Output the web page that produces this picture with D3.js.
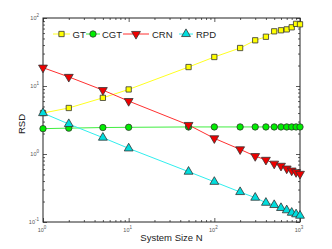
<!DOCTYPE html>
<html>
<head>
<meta charset="utf-8">
<script src="https://cdn.jsdelivr.net/npm/d3@7"></script>
<style>
  body { margin: 0; background: #fff; }
  text { font-family: "Liberation Sans", Arial, sans-serif; }
</style>
</head>
<body>
<div id="chart"></div>
<script>
// Data
var sizes = [1, 2, 5, 10, 50, 100, 200, 300, 400, 500, 600, 700, 800, 900, 1000];
var gt  = [4.0, 4.75, 6.7, 8.9, 19.0, 26.7, 36.2, 47, 53, 63.7, 66, 68, 73, 82, 80.7];
var cgt = [2.36, 2.4, 2.45, 2.47, 2.5, 2.5, 2.5, 2.5, 2.5, 2.5, 2.5, 2.5, 2.5, 2.5, 2.5];
var crn = [18.6, 13.6, 8.7, 6.0, 2.67, 1.70, 1.17, 0.93, 0.82, 0.72, 0.67, 0.61, 0.57, 0.54, 0.51];
var rpd = [4.0, 2.76, 1.74, 1.21, 0.55, 0.39, 0.276, 0.228, 0.192, 0.178, 0.161, 0.149, 0.137, 0.13, 0.124];
var seriesNames = ["GT", "CGT", "CRN", "RPD"];
var xTickExps = [0, 1, 2, 3];
var yTickExps = [-1, 0, 1, 2];

var svgWidth = 332;
var svgHeight = 249;
var margin = { top: 18, right: 32, bottom: 27, left: 43 };
var chartWidth = svgWidth - margin.left - margin.right;
var chartHeight = svgHeight - margin.top - margin.bottom;

var svg = d3.select("#chart")
  .append("svg")
  .attr("width", svgWidth)
  .attr("height", svgHeight);

var chartGroup = svg.append("g")
  .attr("transform", `translate(${margin.left},${margin.top})`);

var xScale = d3.scaleLog().domain([1, 1000]).range([0, chartWidth]);
var yScale = d3.scaleLog().domain([0.1, 100]).range([chartHeight, 0]);

// Minor + major ticks inside the box on all four sides
var xMinor = [], yMinor = [];
for (var e = 0; e < 3; e++) for (var m = 2; m < 10; m++) xMinor.push(m * Math.pow(10, e));
for (var e = -1; e < 2; e++) for (var m = 2; m < 10; m++) yMinor.push(m * Math.pow(10, e));
var xMajor = xTickExps.map(e => Math.pow(10, e));
var yMajor = yTickExps.map(e => Math.pow(10, e));

function tickAxis(axisFn, scale, vals, len) {
  return axisFn(scale).tickValues(vals).tickSize(len).tickFormat("");
}
var axes = [
  [d3.axisTop, xScale, `translate(0,${chartHeight})`],
  [d3.axisBottom, xScale, "translate(0,0)"],
  [d3.axisRight, yScale, "translate(0,0)"],
  [d3.axisLeft, yScale, `translate(${chartWidth},0)`]
];
axes.forEach(function(a) {
  var isX = a[1] === xScale;
  [[isX ? xMinor : yMinor, 2], [isX ? xMajor : yMajor, 4]].forEach(function(t) {
    chartGroup.append("g")
      .attr("transform", a[2])
      .call(tickAxis(a[0], a[1], t[0], t[1]))
      .call(g => g.select(".domain").remove())
      .selectAll("line").attr("stroke", "#333").attr("stroke-width", 0.8);
  });
});

// Frame
chartGroup.append("rect")
  .attr("width", chartWidth)
  .attr("height", chartHeight)
  .attr("fill", "none")
  .attr("stroke", "#222")
  .attr("stroke-width", 1);

// Tick labels 10^n
function powLabel(sel, exp) {
  sel.append("tspan").text("10");
  sel.append("tspan").attr("dy", -3).attr("font-size", 4.5).text(exp);
}
xTickExps.forEach(function(e) {
  chartGroup.append("text")
    .attr("x", xScale(Math.pow(10, e)) - 1)
    .attr("y", chartHeight + 10)
    .attr("text-anchor", "middle")
    .attr("font-size", 5.5)
    .attr("fill", "#555")
    .call(powLabel, e);
});
yTickExps.forEach(function(e) {
  chartGroup.append("text")
    .attr("x", -4)
    .attr("y", yScale(Math.pow(10, e)) + 2)
    .attr("text-anchor", "end")
    .attr("font-size", 5.5)
    .attr("fill", "#555")
    .call(powLabel, e);
});

// Axis titles
svg.append("text")
  .attr("x", margin.left + chartWidth / 2)
  .attr("y", 241)
  .attr("text-anchor", "middle")
  .attr("font-size", 9.5)
  .attr("fill", "#222")
  .text("System Size N");
svg.append("text")
  .attr("transform", "translate(25,124) rotate(-90)")
  .attr("text-anchor", "middle")
  .attr("font-size", 9.5)
  .attr("fill", "#222")
  .text("RSD");

// Series
var seriesData = [gt, cgt, crn, rpd];
var lineColors = ["#ffff20", "#40ee40", "#ff3030", "#30eeee"];
var fillColors = ["#ffff00", "#00ee00", "#ee0000", "#00dddd"];
var symbols = [
  d3.symbol().type(d3.symbolSquare).size(28),
  d3.symbol().type(d3.symbolCircle).size(32),
  d3.symbol().type(d3.symbolTriangle).size(34),
  d3.symbol().type(d3.symbolTriangle).size(34)
];
var rotations = [0, 0, 180, 0];

var line = d3.line()
  .x(d => xScale(d[0]))
  .y(d => yScale(d[1]));

seriesData.forEach(function(vals, i) {
  var pts = sizes.map((s, j) => [s, vals[j]]);
  chartGroup.append("path")
    .datum(pts)
    .attr("fill", "none")
    .attr("stroke", lineColors[i])
    .attr("stroke-width", 1)
    .attr("d", line);
});
seriesData.forEach(function(vals, i) {
  var pts = sizes.map((s, j) => [s, vals[j]]);
  chartGroup.selectAll(".mark" + i)
    .data(pts)
    .enter()
    .append("path")
    .attr("class", "mark" + i)
    .attr("transform", d => `translate(${xScale(d[0])},${yScale(d[1])}) rotate(${rotations[i]})`)
    .attr("d", symbols[i])
    .attr("fill", fillColors[i])
    .attr("stroke", "#333")
    .attr("stroke-width", 0.8);
});

// Legend: line start, line end, text x for each entry
var legendItems = [[53, 70, 72.5], [86, 100, 102], [123, 149, 152], [179, 193, 196]];
var legend = svg.append("g");
seriesNames.forEach(function(name, i) {
  var it = legendItems[i];
  var g = legend.append("g").attr("transform", "translate(0,34)");
  g.append("line")
    .attr("x1", it[0]).attr("x2", it[1])
    .attr("stroke", lineColors[i]).attr("stroke-width", 1);
  g.append("path")
    .attr("transform", `translate(${(it[0] + it[1]) / 2},0) rotate(${rotations[i]})`)
    .attr("d", symbols[i])
    .attr("fill", fillColors[i])
    .attr("stroke", "#333")
    .attr("stroke-width", 0.8);
  g.append("text")
    .attr("x", it[2])
    .attr("y", 3.5)
    .attr("font-size", 9.5)
    .attr("fill", "#222")
    .text(name);
});
</script>
</body>
</html>
